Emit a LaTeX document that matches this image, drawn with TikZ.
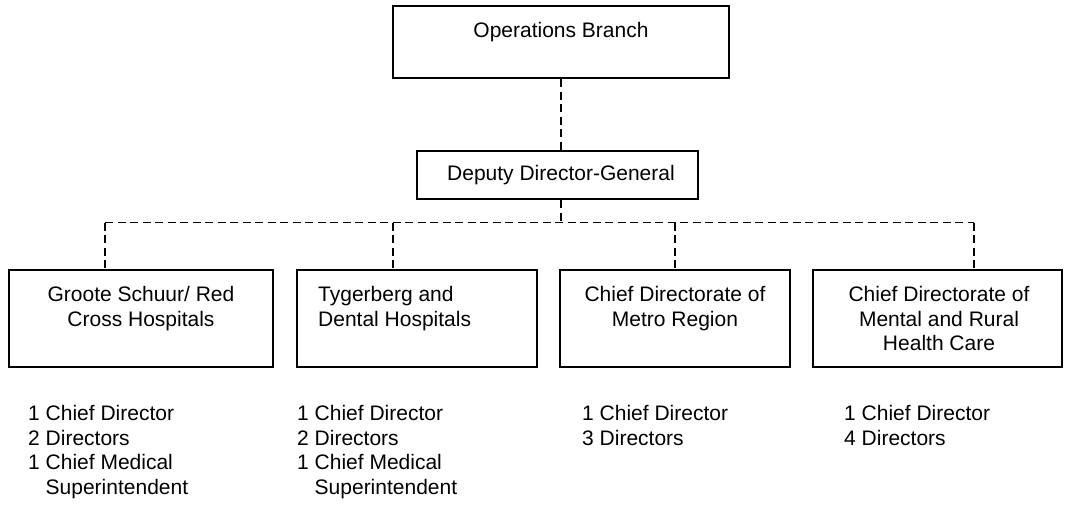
\documentclass[tikz,border=0pt]{standalone}
\usepackage{fontspec}
\setmainfont{Liberation Sans}
\begin{document}
\begin{tikzpicture}[x=1pt,y=-1pt,
  box/.style={draw=black,line width=2pt,inner sep=0pt},
  conn/.style={draw=black,line width=1.8pt,dash pattern=on 8pt off 4.5pt},
  lbl/.style={inner sep=0pt,font=\fontsize{21}{24.5}\selectfont},
  lst/.style={inner sep=0pt,anchor=north west,align=left,font=\fontsize{21}{24.5}\selectfont}]
\useasboundingbox (0,0) rectangle (1086,507);
% boxes
\node[box,minimum width=336,minimum height=72] (ops) at (561,42) {};
\node[box,minimum width=281,minimum height=48] (ddg) at (557.5,175) {};
\node[box,minimum width=264,minimum height=97] (b1) at (141,318.5) {};
\node[box,minimum width=240,minimum height=97] (b2) at (417,318.5) {};
\node[box,minimum width=230,minimum height=97] (b3) at (675,318.5) {};
\node[box,minimum width=249,minimum height=97] (b4) at (937.5,318.5) {};
% box texts
\node[lbl,anchor=north] (tops) at (561,22.5) {Operations Branch};
\node[lbl] (tddg) at (561,175) {Deputy Director-General};
\node[lbl,anchor=north,align=center] (tb1) at (141,286.5) {Groote Schuur/ Red\\Cross Hospitals};
\node[lbl,anchor=north west,align=left] (tb2) at (318,286.5) {Tygerberg and\\Dental Hospitals};
\node[lbl,anchor=north,align=center] (tb3) at (675,286.5) {Chief Directorate of\\Metro Region};
\node[lbl,anchor=north,align=center] (tb4) at (939,286.5) {Chief Directorate of\\Mental and Rural\\Health Care};
% lists
\node[lst] (l1) at (28,405.5) {1 Chief Director\\2 Directors\\1 Chief Medical\\\hphantom{1} Superintendent};
\node[lst] (l2) at (297,405.5) {1 Chief Director\\2 Directors\\1 Chief Medical\\\hphantom{1} Superintendent};
\node[lst] (l3) at (582,405.5) {1 Chief Director\\3 Directors};
\node[lst] (l4) at (844,405.5) {1 Chief Director\\4 Directors};
% connectors
\coordinate (j1) at (105,222.5);
\coordinate (j2) at (393,222.5);
\coordinate (j3) at (675,222.5);
\coordinate (j4) at (974,222.5);
\draw[conn] (ops.south) -- (ops.south |- ddg.north);
\draw[conn] (ops.south |- ddg.south) -- (ops.south |- j1);
\draw[conn] (j1) -- (j4);
\draw[conn] (j1) -- (j1 |- b1.north);
\draw[conn] (j2) -- (j2 |- b2.north);
\draw[conn] (j3) -- (j3 |- b3.north);
\draw[conn] (j4) -- (j4 |- b4.north);
\end{tikzpicture}
\end{document}
